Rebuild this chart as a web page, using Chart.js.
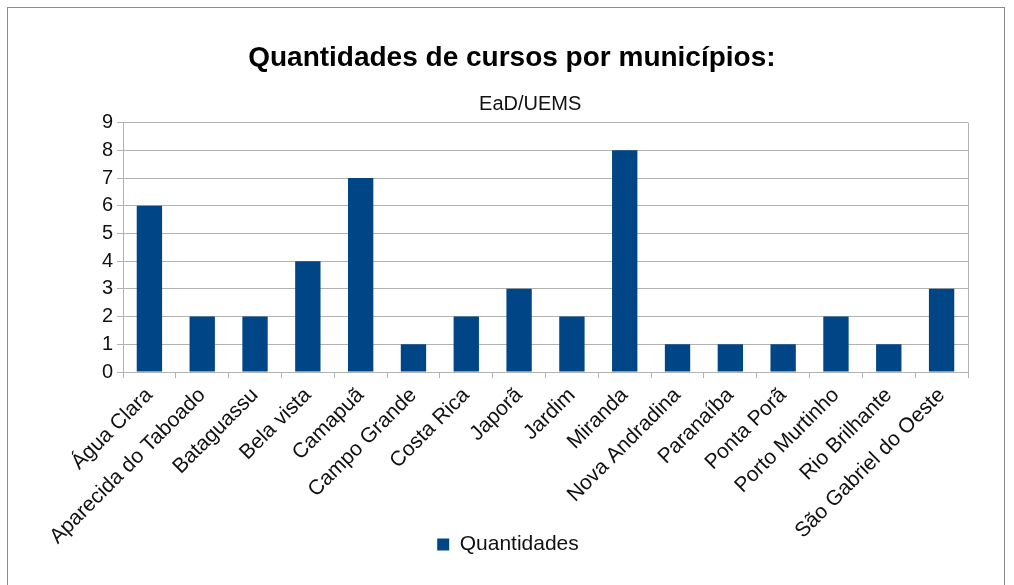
<!DOCTYPE html>
<html>
<head>
<meta charset="utf-8">
<script src="https://cdn.jsdelivr.net/npm/chart.js@4/dist/chart.umd.min.js"></script>
<style>
    html, body { margin: 0; padding: 0; background: #fff; }
    #wrap { position: relative; width: 1014px; height: 585px; }
    #frame { position: absolute; left: 7px; top: 7px; width: 998px; height: 590px; border: 1px solid #8a8a8a; box-sizing: border-box; }
</style>
</head>
<body>
<div id="wrap">
    <div id="frame"></div>
    <canvas id="cursosChart" width="1014" height="585"></canvas>
</div>
<script>
const municipios = ['Água Clara', 'Aparecida do Taboado', 'Bataguassu', 'Bela vista', 'Camapuã',
    'Campo Grande', 'Costa Rica', 'Japorã', 'Jardim', 'Miranda', 'Nova Andradina',
    'Paranaíba', 'Ponta Porã', 'Porto Murtinho', 'Rio Brilhante', 'São Gabriel do Oeste'];
const quantidades = [6, 2, 2, 4, 7, 1, 2, 3, 2, 8, 1, 1, 1, 2, 1, 3];
const yTicks = [0, 1, 2, 3, 4, 5, 6, 7, 8, 9];

// borda direita da área do gráfico
const plotBorder = {
    id: 'plotBorder',
    afterDraw(chart) {
        const a = chart.chartArea;
        const c = chart.ctx;
        c.save();
        c.strokeStyle = '#b3b3b3';
        c.lineWidth = 1;
        c.beginPath();
        c.moveTo(Math.round(a.right) + 0.5, a.top);
        c.lineTo(Math.round(a.right) + 0.5, a.bottom + 6);
        c.stroke();
        c.restore();
    }
};

document.addEventListener('DOMContentLoaded', function () {
    const ctx = document.getElementById('cursosChart');
    new Chart(ctx, {
        type: 'bar',
        data: {
            labels: municipios,
            datasets: [{
                label: 'Quantidades',
                data: quantidades,
                backgroundColor: '#004586',
                borderWidth: 0,
                barPercentage: 0.48,
                categoryPercentage: 1
            }]
        },
        options: {
            responsive: false,
            animation: false,
            layout: { padding: { top: 41, right: 46, left: 48, bottom: 20 } },
            plugins: {
                title: {
                    display: true,
                    text: '\u00a0' + 'Quantidades de cursos por municípios:',
                    color: '#000',
                    font: { family: 'Liberation Sans', size: 28, weight: 'bold' },
                    padding: { top: 0, bottom: 18 }
                },
                subtitle: {
                    display: true,
                    text: '\u00a0'.repeat(8) + 'EaD/UEMS',
                    color: '#111',
                    font: { family: 'Liberation Sans', size: 20 },
                    padding: { top: 0, bottom: 6 }
                },
                legend: {
                    position: 'bottom',
                    labels: {
                        color: '#111',
                        font: { family: 'Liberation Sans', size: 21 },
                        boxWidth: 12,
                        boxHeight: 12,
                        padding: 14
                    }
                },
                tooltip: { enabled: false }
            },
            scales: {
                x: {
                    offset: true,
                    afterFit(axis) {
                        axis.height = 148;
                        // os rótulos passam por baixo da legenda, sem recorte
                        axis._computeLabelArea = () => undefined;
                    },
                    grid: {
                        offset: true,
                        drawOnChartArea: false,
                        drawTicks: true,
                        tickLength: 6,
                        color: '#b3b3b3'
                    },
                    border: { color: '#b3b3b3' },
                    ticks: {
                        color: '#111',
                        font: { family: 'Liberation Sans', size: 21 },
                        minRotation: 45,
                        maxRotation: 45,
                        autoSkip: false,
                        padding: 5
                    }
                },
                y: {
                    min: 0,
                    max: 9,
                    afterBuildTicks(axis) { axis.ticks = yTicks.map(v => ({ value: v })); },
                    afterFit(axis) { axis.width = 75; },
                    grid: { color: '#b3b3b3', tickLength: 6 },
                    border: { color: '#b3b3b3' },
                    ticks: {
                        color: '#111',
                        font: { family: 'Liberation Sans', size: 20 },
                        padding: 4
                    }
                }
            }
        },
        plugins: [plotBorder]
    });
});
</script>
</body>
</html>
